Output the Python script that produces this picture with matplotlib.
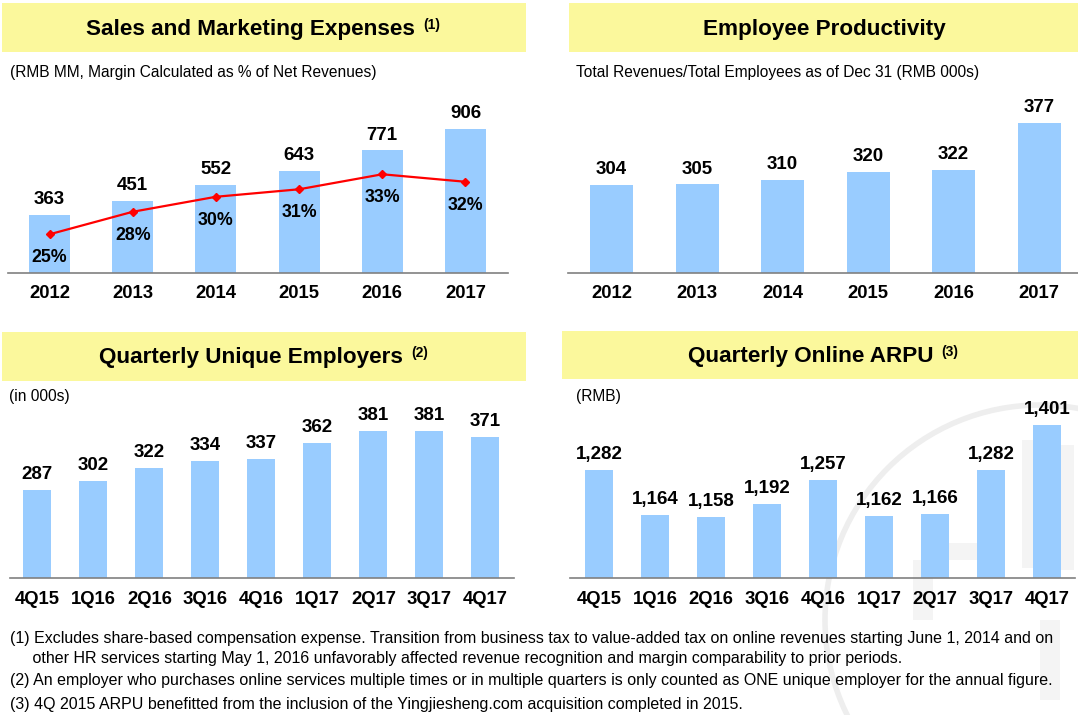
import matplotlib
matplotlib.use('Agg')
import matplotlib.pyplot as plt
from matplotlib.patches import Rectangle, Circle

plt.rcParams['font.family'] = ['Liberation Sans', 'DejaVu Sans']

# data
years = ['2012', '2013', '2014', '2015', '2016', '2017']
sm_expense = [363, 451, 552, 643, 771, 906]
sm_margin = [25, 28, 30, 31, 33, 32]
productivity = [304, 305, 310, 320, 322, 377]
quarters = ['4Q15', '1Q16', '2Q16', '3Q16', '4Q16', '1Q17', '2Q17', '3Q17', '4Q17']
employers = [287, 302, 322, 334, 337, 362, 381, 381, 371]
arpu = [1282, 1164, 1158, 1192, 1257, 1162, 1166, 1282, 1401]

footnotes = [
    '(1) Excludes share-based compensation expense. Transition from business tax to value-added tax on online revenues starting June 1, 2014 and on',
    '     other HR services starting May 1, 2016 unfavorably affected revenue recognition and margin comparability to prior periods.',
    '(2) An employer who purchases online services multiple times or in multiple quarters is only counted as ONE unique employer for the annual figure.',
    '(3) 4Q 2015 ARPU benefitted from the inclusion of the Yingjiesheng.com acquisition completed in 2015.',
]

BAR = '#99CCFF'
YELLOW = '#FBF89C'
W, H = 1078, 715

fig = plt.figure(figsize=(W / 100, H / 100), dpi=100)


def px_axes(x0, y0, x1, y1, **kw):
    return fig.add_axes([x0 / W, 1 - y1 / H, (x1 - x0) / W, (y1 - y0) / H], **kw)


# faint watermark in the background
bg = px_axes(0, 0, W, H)
bg.set_xlim(0, W)
bg.set_ylim(H, 0)
bg.axis('off')
bg.add_patch(Circle((1040, 620), 215, fill=False, ec='#EEEEEE', lw=4))
for (x, y, w, h) in [(1022, 440, 18, 128), (1052, 445, 22, 125), (948, 543, 30, 17),
                     (913, 560, 20, 60), (1040, 620, 20, 80)]:
    bg.add_patch(Rectangle((x, y), w, h, color='#F4F4F4', lw=0))


def bar_panel(rect, labels, values, xlim, ylim, width, fmt):
    ax = px_axes(*rect)
    ax.patch.set_alpha(0)
    x = list(range(len(values)))
    bars = ax.bar(x, values, width=width, color=BAR, zorder=2)
    ax.set_xlim(*xlim)
    ax.set_ylim(*ylim)
    for b, v in zip(bars, values):
        ax.annotate(fmt(v), (b.get_x() + b.get_width() / 2, v), xytext=(0, 5),
                    textcoords='offset points', ha='center', va='bottom',
                    fontsize=13.5, fontweight='bold', zorder=4)
    ax.set_xticks(x)
    ax.set_xticklabels(labels, fontsize=13.3, fontweight='bold')
    ax.tick_params(axis='x', length=0, pad=9)
    ax.set_yticks([])
    for s in ['left', 'right', 'top']:
        ax.spines[s].set_visible(False)
    ax.spines['bottom'].set_color('#808080')
    ax.spines['bottom'].set_linewidth(1.2)
    return ax


ax1 = bar_panel((8, 100, 508, 273), years, sm_expense, (-0.499, 5.511), (0, 1088.7), 0.493,
                lambda v: f'{v}')
ax1b = ax1.twinx()
ax1b.set_ylim(19.84, 42.9)
ax1b.axis('off')
ax1b.plot(range(len(sm_margin)), sm_margin, color='#FF0000', lw=1.6, marker='D',
          markersize=4.5, zorder=5)
for i, p in enumerate(sm_margin):
    ax1b.annotate(f'{p}%', (i, p), xytext=(0, -17), textcoords='offset points',
                  ha='center', va='center', fontsize=12.8, fontweight='bold')

bar_panel((568, 100, 1078, 273), years, productivity, (-0.509, 5.456), (201.5, 403.8), 0.503,
          lambda v: f'{v}')
bar_panel((10, 410, 514, 578), quarters, employers, (-0.491, 8.509), (147, 414.5), 0.5,
          lambda v: f'{v}')
bar_panel((570, 410, 1075, 578), quarters, arpu, (-0.518, 8.5), (998.4, 1440.5), 0.5,
          lambda v: f'{v:,}')

# overlay: title boxes, subtitles, footnotes
ov = px_axes(0, 0, W, H)
ov.set_xlim(0, W)
ov.set_ylim(H, 0)
ov.axis('off')
ov.patch.set_alpha(0)

ov.add_patch(Rectangle((2, 3), 524, 49, color=YELLOW, lw=0))
ov.add_patch(Rectangle((569, 3), 509, 49, color=YELLOW, lw=0))
ov.add_patch(Rectangle((2, 332), 524, 49, color=YELLOW, lw=0))
ov.add_patch(Rectangle((562, 331), 516, 48, color=YELLOW, lw=0))

tkw = dict(fontsize=16.2, fontweight='bold', va='baseline')
skw = dict(fontsize=10, fontweight='bold', va='baseline', ha='left')
ov.text(415, 35, 'Sales and Marketing Expenses', ha='right', **tkw)
ov.text(423, 29, '(1)', **skw)
ov.text(824, 35, 'Employee Productivity', ha='center', **tkw)
ov.text(403, 363, 'Quarterly Unique Employers', ha='right', **tkw)
ov.text(411, 357, '(2)', **skw)
ov.text(933, 362, 'Quarterly Online ARPU', ha='right', **tkw)
ov.text(941, 356, '(3)', **skw)

sub = dict(fontsize=11.2, va='center', ha='left')
ov.text(10, 72, '(RMB MM, Margin Calculated as % of Net Revenues)', **sub)
ov.text(576, 73, 'Total Revenues/Total Employees as of Dec 31 (RMB 000s)', **sub)
ov.text(9, 397, '(in 000s)', **sub)
ov.text(576, 397, '(RMB)', **sub)

for y, t in zip([638, 658, 681, 705], footnotes):
    ov.text(10, y, t, fontsize=11.5, va='center', ha='left')

fig.savefig('out.png', dpi=100)
